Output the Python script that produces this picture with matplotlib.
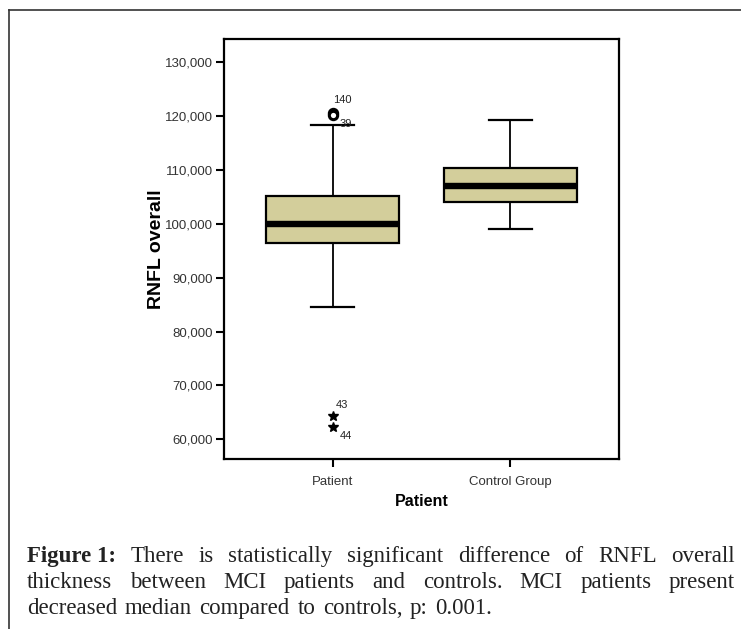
import matplotlib
matplotlib.use("Agg")
import matplotlib.pyplot as plt
from matplotlib.lines import Line2D

# box summary (thousands)
groups = ["Patient", "Control Group"]
q1 = [96.5, 104.1]
medians = [99.9, 107.0]
q3 = [105.2, 110.3]
whisker_low = [84.6, 99.0]
whisker_high = [118.3, 119.2]

# Patient outliers (circles) and extremes (stars) with case numbers
outlier_vals = [120.6, 120.1]
outlier_ids = ["140", "39"]
extreme_vals = [64.4, 62.3]
extreme_ids = ["43", "44"]

yticks = [60, 70, 80, 90, 100, 110, 120, 130]
ytick_labels = [f"{v},000" for v in yticks]

caption_lines = [
    [("Figure 1:", True)] + [(w, False) for w in
        "There is statistically significant difference of RNFL overall".split()],
    [(w, False) for w in
        "thickness between MCI patients and controls. MCI patients present".split()],
    [(w, False) for w in
        "decreased median compared to controls, p: 0.001.".split()],
]

W, H = 741, 629
fig = plt.figure(figsize=(W / 100, H / 100), dpi=100)
fig.patch.set_facecolor("white")

ax = fig.add_axes([224.3 / W, 1 - 459.3 / H, 394.4 / W, 420 / H])

stats = []
for i in range(len(groups)):
    stats.append(dict(label=groups[i], q1=q1[i], med=medians[i], q3=q3[i],
                      whislo=whisker_low[i], whishi=whisker_high[i], fliers=[]))

ax.bxp(stats, positions=[1, 2], widths=0.75, patch_artist=True, showfliers=False,
       boxprops=dict(facecolor="#D3CE9B", edgecolor="black", linewidth=1.6),
       medianprops=dict(color="black", linewidth=4.6, solid_capstyle="butt"),
       whiskerprops=dict(color="black", linewidth=1.3),
       capprops=dict(color="black", linewidth=1.6),
       capwidths=0.24)

# outliers
ax.plot([1] * len(outlier_vals), outlier_vals, linestyle="none", marker="o",
        markersize=6, markerfacecolor="white", markeredgecolor="black",
        markeredgewidth=2.2, zorder=5)
ax.annotate(outlier_ids[0], (1, outlier_vals[0]), xytext=(0, 8),
            textcoords="offset pixels", fontsize=8, color="#222222",
            family="Liberation Sans", va="bottom", ha="left")
ax.annotate(outlier_ids[1], (1, outlier_vals[1]), xytext=(7, -4),
            textcoords="offset pixels", fontsize=8, color="#222222",
            family="Liberation Sans", va="top", ha="left")

# extremes
ax.plot([1] * len(extreme_vals), extreme_vals, linestyle="none", marker="*",
        markersize=7, color="black", zorder=5)
ax.annotate(extreme_ids[0], (1, extreme_vals[0]), xytext=(3, 6),
            textcoords="offset pixels", fontsize=8, color="#222222",
            family="Liberation Sans", va="bottom", ha="left")
ax.annotate(extreme_ids[1], (1, extreme_vals[1]), xytext=(7, -4),
            textcoords="offset pixels", fontsize=8, color="#222222",
            family="Liberation Sans", va="top", ha="left")

ax.set_xlim(0.39, 2.61)
ax.set_ylim(56.3, 134.2)
ax.set_yticks(yticks)
ax.set_yticklabels(ytick_labels)
ax.set_xticks([1, 2])
ax.set_xticklabels(groups)
for lab in ax.get_xticklabels() + ax.get_yticklabels():
    lab.set_family("Liberation Sans")
    lab.set_fontsize(9.5)
    lab.set_color("#333333")
ax.tick_params(direction="out", length=6, width=1.5, color="black", pad=2)
ax.tick_params(axis="x", pad=6)
for s in ax.spines.values():
    s.set_linewidth(1.6)
    s.set_color("black")

ax.set_ylabel("RNFL overall", family="Liberation Sans", fontsize=14,
              fontweight="bold", labelpad=0)
ax.set_xlabel("Patient", family="Liberation Sans", fontsize=11.5,
              fontweight="bold", labelpad=4)

# outer frame of the figure panel
fig.add_artist(Line2D([9 / W, 9 / W], [0, 1 - 10 / H], color="#333333", linewidth=1.2))
fig.add_artist(Line2D([9 / W, 1], [1 - 10 / H, 1 - 10 / H], color="#333333", linewidth=1.2))

# justified caption
renderer = fig.canvas.get_renderer()
x_left, x_right = 27, 735
baselines = [562, 588, 614]
fsize = 16.5
for li, words in enumerate(caption_lines):
    texts = []
    for w, bold in words:
        t = fig.text(0, 1 - baselines[li] / H, w, family="Liberation Serif",
                     fontsize=fsize, fontweight="bold" if bold else "normal",
                     color="#222222", va="baseline", ha="left")
        texts.append(t)
    widths = [t.get_window_extent(renderer).width for t in texts]
    if li < len(caption_lines) - 1:
        gap = (x_right - x_left - sum(widths)) / (len(texts) - 1)
    else:
        gap = fsize * 100 / 72 * 0.33
    x = x_left
    for t, wdt in zip(texts, widths):
        t.set_x(x / W)
        x += wdt + gap

fig.savefig("out.png", dpi=100, facecolor="white")
